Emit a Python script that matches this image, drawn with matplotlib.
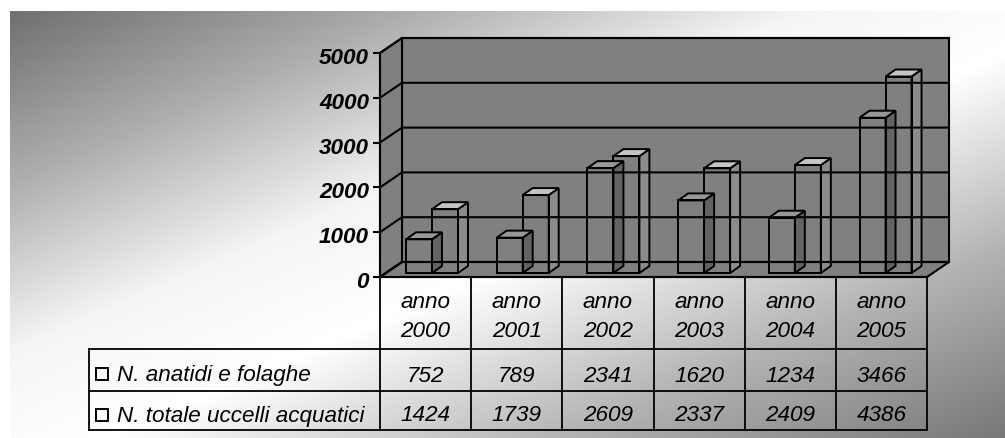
import numpy as np
import matplotlib
matplotlib.use('Agg')
import matplotlib.pyplot as plt
from matplotlib.transforms import ScaledTranslation

plt.rcParams['font.family'] = ['Liberation Sans', 'DejaVu Sans']

# dati
anni = ['anno\n2000', 'anno\n2001', 'anno\n2002', 'anno\n2003', 'anno\n2004', 'anno\n2005']
anatidi = [752, 789, 2341, 1620, 1234, 3466]
totale = [1424, 1739, 2609, 2337, 2409, 4386]
nomi = ['N. anatidi e folaghe', 'N. totale uccelli acquatici']
y_ticks = [0, 1000, 2000, 3000, 4000, 5000]

W, H = 1005, 439
X0, X1 = 380, 927    # piano frontale
Y0, Y1 = 278, 54
DX, DY = 22, 15      # profondita' del muro
GRIGIO = '#808080'
FS = 16.2

fig = plt.figure(figsize=(W / 100, H / 100), dpi=100, facecolor='white')

# --- sfondo e tabella, in coordinate pixel ---
bg = fig.add_axes([0, 0, 1, 1])
bg.set_xlim(0, W)
bg.set_ylim(H, 0)
bg.axis('off')

gx, gy = np.meshgrid(np.linspace(0, 1, 400), np.linspace(0, 1, 200))
t = (gx + gy) / 2
valori = np.interp(t, [0, 0.2, 0.4, 0.55, 0.78, 1], [0.44, 0.68, 0.96, 1.0, 0.70, 0.47])
bg.imshow(valori, extent=[10, W, H, 12], cmap='gray', vmin=0, vmax=1,
          aspect='auto', interpolation='bilinear')
bg.set_xlim(0, W)
bg.set_ylim(H, 0)

# muro di fondo, lato sinistro, pavimento
bg.fill([X0 + DX, W - 56, W - 56, X0 + DX], [Y1 - DY, Y1 - DY, Y0 - DY, Y0 - DY],
        facecolor=GRIGIO, edgecolor='black', lw=1.5)
bg.fill([X0, X0 + DX, X0 + DX, X0], [Y1, Y1 - DY, Y0 - DY, Y0],
        facecolor=GRIGIO, edgecolor='black', lw=1.5)
bg.fill([X0, X0 + DX, W - 56, X1], [Y0, Y0 - DY, Y0 - DY, Y0],
        facecolor=GRIGIO, edgecolor='black', lw=1.5)

# griglie della tabella
col_x = np.linspace(X0, X1, len(anni) + 1)
righe_y = [350, 392, 431]
bg.plot([X0, X1], [Y0, Y0], color='black', lw=1.5)
for x in col_x:
    bg.plot([x, x], [Y0, righe_y[-1]], color='black', lw=1.3)
for y in righe_y:
    bg.plot([89, X1], [y, y], color='black', lw=1.3)
bg.plot([89, 89], [righe_y[0], righe_y[-1]], color='black', lw=1.3)

for i, lab in enumerate(anni):
    cx = (col_x[i] + col_x[i + 1]) / 2
    a, b = lab.split('\n')
    bg.text(cx, 303, a, ha='center', va='center', style='italic', fontsize=FS)
    bg.text(cx, 332, b, ha='center', va='center', style='italic', fontsize=FS)
    bg.text(cx, 377, str(anatidi[i]), ha='center', va='center', style='italic', fontsize=FS)
    bg.text(cx, 416, str(totale[i]), ha='center', va='center', style='italic', fontsize=FS)

for nome, y in zip(nomi, [375, 416]):
    bg.add_patch(plt.Rectangle((96, y - 6), 12, 12, facecolor='none', edgecolor='black', lw=1.4))
    bg.text(117, y + 1, nome, ha='left', va='center', style='italic', fontsize=FS)

# --- assi dei dati: piano frontale ---
ax = fig.add_axes([X0 / W, 1 - Y0 / H, (X1 - X0) / W, (Y0 - Y1) / H])
ax.patch.set_alpha(0)
ax.set_xlim(0, len(anni))
ax.set_ylim(0, 5000)
for s in ['top', 'right', 'bottom']:
    ax.spines[s].set_visible(False)
ax.spines['left'].set_linewidth(1.5)
ax.set_xticks([])
ax.set_yticks(y_ticks)
ax.set_yticklabels([str(v) for v in y_ticks], fontweight='bold', style='italic', fontsize=FS)
ax.tick_params(axis='y', length=5, width=1.5, pad=3)
sposta = ScaledTranslation(0, -2 / 100, fig.dpi_scale_trans)
for lab in ax.get_yticklabels():
    lab.set_transform(lab.get_transform() + sposta)

px = len(anni) / (X1 - X0)      # unita' x per pixel
py = 5000 / (Y0 - Y1)           # unita' y per pixel

# griglia sul muro e sul lato sinistro
for v in y_ticks:
    ax.plot([0, DX * px, (W - 56 - X0) * px], [v, v + DY * py, v + DY * py],
            color='black', lw=1.5, clip_on=False)


def barra(x, v, larg, col_lato, col_top):
    # barra 3D: fronte trasparente, lato e coperchio pieni
    base = 4 * py
    d_x, d_y = 10 * px, 7 * py
    x2 = x + larg
    ax.fill([x2, x2 + d_x, x2 + d_x, x2], [base, base + d_y, base + v + d_y, base + v],
            facecolor=col_lato, edgecolor='black', lw=1.4, clip_on=False)
    ax.fill([x, x2, x2 + d_x, x + d_x], [base + v, base + v, base + v + d_y, base + v + d_y],
            facecolor=col_top, edgecolor='black', lw=1.4, clip_on=False)
    ax.bar(x, v, larg, bottom=base, align='edge', facecolor='none', edgecolor='black', lw=1.4, clip_on=False)


larg = 26 * px
for i in range(len(anni)):
    inizio = i * 0.995 + 0.285
    barra(inizio + larg, totale[i], larg, '#8c8c8c', '#c4c4c4')
    barra(inizio, anatidi[i], larg, '#636363', '#989898')

fig.savefig('out.png', dpi=100)
